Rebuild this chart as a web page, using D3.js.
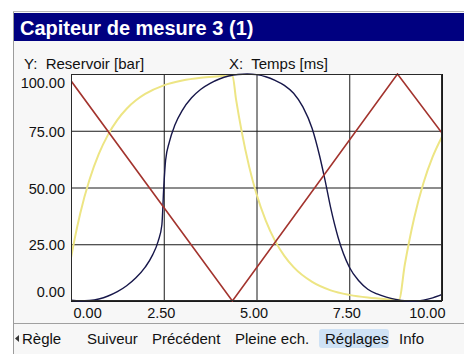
<!DOCTYPE html>
<html>
<head>
<meta charset="utf-8">
<script src="https://cdn.jsdelivr.net/npm/d3@7"></script>
<style>
  html, body { margin: 0; padding: 0; background: #ffffff; }
  svg { display: block; font-family: "Liberation Sans", Arial, sans-serif; }
</style>
</head>
<body>
<svg id="chart" width="464" height="354"></svg>
<script>
// ---- data ----
const titleText = "Capiteur de mesure 3 (1)";
const yAxisTitle = "Y:  Reservoir [bar]";
const xAxisTitle = "X:  Temps [ms]";
const xTicks = [0, 2.5, 5, 7.5, 10];
const yTicks = [0, 25, 50, 75, 100];
const menuItems = ["Règle", "Suiveur", "Précédent", "Pleine ech.", "Réglages", "Info"];
const activeMenu = "Réglages";

// red triangle signal (vertices)
const redT = [0, 4.35, 8.8, 10];
const redV = [97, 0, 100, 74];

// yellow charge / discharge signal
const yellowT = [0, 0.1, 0.25, 0.5, 0.75, 1.0, 1.25, 1.5, 1.75, 2.0, 2.5, 3.0, 3.5, 4.0, 4.35,
                 4.45, 4.6, 4.8, 5.0, 5.25, 5.5, 5.75, 6.0, 6.5, 7.0, 7.5, 8.0, 8.5, 8.84,
                 9.0, 9.25, 9.5, 9.75, 10.0];
const yellowV = [19, 27.5, 38.7, 53.5, 64.8, 73.3, 79.8, 84.7, 88.4, 91.2, 95.0, 97.1, 98.3, 99.0, 99.5,
                 88.7, 74.7, 59.3, 47.1, 35.4, 26.5, 19.9, 14.9, 8.4, 4.7, 2.7, 1.5, 0.8, 0.5,
                 16.3, 36.6, 52.0, 63.6, 72.4];

// navy plateau signal
const navyT = [0, 0.25, 0.5, 0.75, 1.0, 1.25, 1.5, 1.75, 2.0, 2.2, 2.35, 2.45, 2.5, 2.55, 2.65, 2.8,
               3.0, 3.25, 3.5, 3.75, 4.0, 4.25, 4.5, 4.75, 5.0, 5.25, 5.5, 5.75, 6.0, 6.25, 6.5,
               6.7, 6.85, 7.0, 7.2, 7.5, 7.75, 8.0, 8.25, 8.5, 8.75, 9.0, 9.25, 9.5, 9.75, 10];
const navyV = [0.3, 0, 0.2, 0.9, 2.2, 4.1, 6.7, 10.2, 14.9, 20.3, 26.4, 33.6, 50, 62, 70, 77.5,
               84, 89.5, 93.3, 95.9, 97.8, 99.1, 99.8, 100, 99.7, 98.8, 97.2, 95, 91.5, 85.5, 76,
               64, 53, 41, 28, 15, 9, 5.2, 3.1, 1.7, 0.7, 0.1, 0, 0.4, 1.4, 2.9];

const zip = (ts, vs) => ts.map((t, i) => ({ t, v: vs[i] }));

// ---- layout ----
const svg = d3.select("#chart");
const plot = { left: 71, top: 74, right: 442, bottom: 301 };

const x = d3.scaleLinear().domain([0, 10]).range([plot.left, plot.right]);
const y = d3.scaleLinear().domain([0, 100]).range([plot.bottom, plot.top]);

// window background and frame
svg.append("rect").attr("x", 13).attr("y", 11).attr("width", 451).attr("height", 343)
  .attr("fill", "#f7f7f7");
svg.append("line").attr("x1", 13.5).attr("x2", 13.5).attr("y1", 11).attr("y2", 354)
  .attr("stroke", "#9c9c9c");
svg.append("line").attr("x1", 13).attr("x2", 464).attr("y1", 11.5).attr("y2", 11.5)
  .attr("stroke", "#b8b8b8");

// title bar
svg.append("rect").attr("x", 14).attr("y", 13).attr("width", 450).attr("height", 28)
  .attr("fill", "#000080");
svg.append("text").attr("x", 20).attr("y", 35)
  .attr("fill", "#ffffff").attr("font-size", 20).attr("font-weight", "bold")
  .text(titleText);

// axis titles
svg.append("text").attr("x", 24).attr("y", 69).attr("font-size", 15)
  .attr("fill", "#111").style("white-space", "pre").text(yAxisTitle);
svg.append("text").attr("x", 229).attr("y", 69).attr("font-size", 15)
  .attr("fill", "#111").style("white-space", "pre").text(xAxisTitle);

// plot background
svg.append("rect")
  .attr("x", plot.left).attr("y", plot.top)
  .attr("width", plot.right - plot.left).attr("height", plot.bottom - plot.top)
  .attr("fill", "#ffffff");

// grid + labels, Y
const yAxis = svg.append("g")
  .attr("transform", `translate(${plot.left},0)`)
  .call(d3.axisLeft(y).tickValues(yTicks).tickFormat(d3.format(".2f"))
    .tickSize(-(plot.right - plot.left)).tickPadding(6));
yAxis.select(".domain").remove();
yAxis.selectAll(".tick line").attr("stroke", "#1a1a1a");
yAxis.selectAll(".tick text")
  .attr("font-size", 14.5).attr("fill", "#111")
  .attr("font-family", "'Liberation Sans', Arial, sans-serif")
  .attr("dy", d => d === 100 ? "0.95em" : d === 0 ? "-0.3em" : "0.38em");

// grid + labels, X
const xAxis = svg.append("g")
  .attr("transform", `translate(0,${plot.bottom})`)
  .call(d3.axisBottom(x).tickValues(xTicks).tickFormat(d3.format(".2f"))
    .tickSize(-(plot.bottom - plot.top)).tickPadding(7));
xAxis.select(".domain").remove();
xAxis.selectAll(".tick line").attr("stroke", "#1a1a1a");
xAxis.selectAll(".tick text")
  .attr("font-size", 14.5).attr("fill", "#111")
  .attr("font-family", "'Liberation Sans', Arial, sans-serif")
  .attr("text-anchor", d => d === 0 ? "start" : d === 10 ? "end" : "middle")
  .attr("x", d => d === 0 ? 2 : d === 10 ? 3 : -3);

// series
svg.append("clipPath").attr("id", "plotclip").append("rect")
  .attr("x", plot.left).attr("y", plot.top - 1)
  .attr("width", plot.right - plot.left).attr("height", plot.bottom - plot.top + 2);

const series = svg.append("g").attr("clip-path", "url(#plotclip)");

const smooth = d3.line().x(d => x(d.t)).y(d => y(d.v)).curve(d3.curveMonotoneX);
const straight = d3.line().x(d => x(d.t)).y(d => y(d.v));

series.append("path").datum(zip(yellowT, yellowV))
  .attr("d", smooth).attr("fill", "none")
  .attr("stroke", "#ede584").attr("stroke-width", 2);

series.append("path").datum(zip(navyT, navyV))
  .attr("d", smooth).attr("fill", "none")
  .attr("stroke", "#17174a").attr("stroke-width", 1.4);

series.append("path").datum(zip(redT, redV))
  .attr("d", straight).attr("fill", "none")
  .attr("stroke", "#a3342e").attr("stroke-width", 1.6);

// plot frame
svg.append("rect")
  .attr("x", plot.left + 0.5).attr("y", plot.top + 0.5)
  .attr("width", plot.right - plot.left - 1).attr("height", plot.bottom - plot.top - 1)
  .attr("fill", "none").attr("stroke", "#2a2a2a");

// menu bar
svg.append("line").attr("x1", 14).attr("x2", 464).attr("y1", 323.5).attr("y2", 323.5)
  .attr("stroke", "#a0a0a0");

const menuX = [22, 87, 152, 235, 325, 399];
const menu = svg.append("g").attr("font-size", 15).attr("fill", "#111");
menuItems.forEach((m, i) => {
  if (m === activeMenu) {
    menu.append("rect").attr("x", menuX[i] - 6).attr("y", 329)
      .attr("width", 70).attr("height", 19).attr("rx", 3)
      .attr("fill", "#cfe2f5");
  }
  menu.append("text").attr("x", menuX[i]).attr("y", 344).text(m);
});
// small back arrow before the first entry
menu.append("path").attr("d", "M15,338.5 L19,335 L19,342 Z").attr("fill", "#333");
</script>
</body>
</html>
